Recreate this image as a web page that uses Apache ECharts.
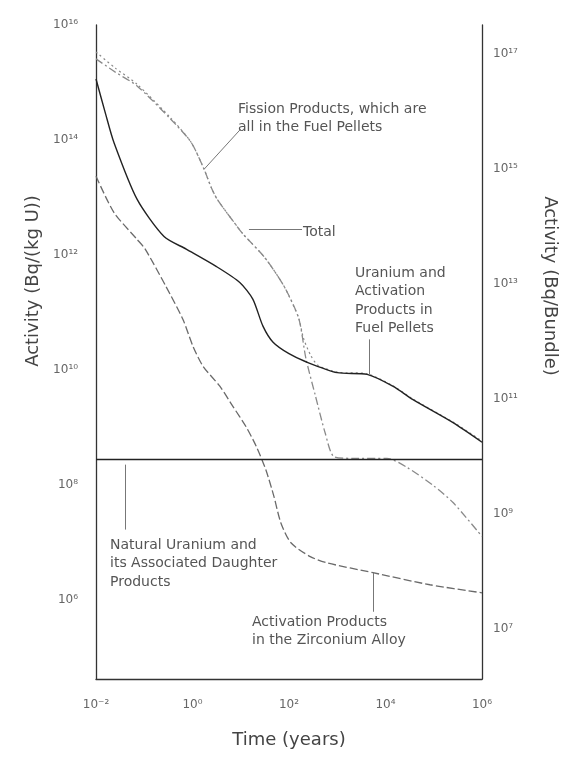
<!DOCTYPE html>
<html><head><meta charset="utf-8">
<script src="https://cdn.jsdelivr.net/npm/echarts@6/dist/echarts.min.js"></script>
<style>html,body{margin:0;padding:0;background:#fff}#c{width:564px;height:769px}</style>
</head><body><div id="c"></div>
<script>
// values are [log10(time in years), log10(activity in Bq/(kg U))]
const xTickExps = [-2, 0, 2, 4, 6];
const leftTickExps = [6, 8, 10, 12, 14, 16];
const rightTickExps = [7, 9, 11, 13, 15, 17];

const totalActivity = [[-2,15.53],[-1.6,15.25],[-1.15,14.97],[-0.45,14.38],[-0.03,13.96],[0.24,13.49],[0.38,13.19],[0.51,12.97],[0.92,12.50],[1.05,12.36],[1.5,11.95],[1.9,11.45],[2.2,10.9],[2.3,10.55],[2.45,10.25],[2.6,10.08],[3.0,9.96],[3.62,9.93],[4.16,9.72],[4.57,9.49],[5.4,9.09],[6,8.76]];
const fissionProducts = [[-2,15.41],[-1.6,15.18],[-1.15,14.94],[-0.45,14.36],[-0.03,13.96],[0.24,13.49],[0.38,13.19],[0.51,12.97],[0.92,12.50],[1.05,12.36],[1.5,11.95],[1.9,11.45],[2.2,10.9],[2.35,10.2],[2.55,9.54],[2.75,8.9],[2.93,8.49],[3.3,8.46],[4.03,8.46],[4.45,8.30],[5.0,7.98],[5.4,7.69],[6,7.10]];
const uraniumActivation = [[-2,15.06],[-1.8,14.45],[-1.63,13.96],[-1.15,12.97],[-0.59,12.32],[-0.13,12.10],[0.49,11.80],[0.98,11.52],[1.25,11.23],[1.46,10.76],[1.67,10.48],[2.0,10.28],[2.35,10.14],[3.0,9.95],[3.62,9.92],[4.16,9.71],[4.57,9.48],[5.4,9.08],[6,8.74]];
const zirconiumActivation = [[-2,13.37],[-1.63,12.74],[-1.15,12.27],[-0.98,12.10],[-0.55,11.45],[-0.2,10.88],[0.01,10.41],[0.22,10.06],[0.57,9.71],[0.84,9.36],[1.11,9.01],[1.32,8.67],[1.52,8.26],[1.69,7.79],[1.83,7.34],[2.04,6.99],[2.44,6.75],[2.79,6.64],[3.74,6.47],[4.92,6.26],[6,6.12]];
const naturalUranium = [[-2,8.44],[6,8.44]];

const supMap = {'-':'\u207B','0':'\u2070','1':'\u00B9','2':'\u00B2','3':'\u00B3','4':'\u2074','5':'\u2075','6':'\u2076','7':'\u2077','8':'\u2078','9':'\u2079'};
function pow10(v){ return '10' + String(v).split('').map(c => supMap[c] || c).join(''); }

const FONT = 'DejaVu Sans';
const tickLabel = {color:'#666', fontSize:12, fontFamily:FONT};
const annStyle = {fill:'#555', font:'14px "DejaVu Sans"', lineHeight:18.5};

function leader(a, b){ return [{coord:a},{coord:b}]; }
const leaderStyle = {color:'#777', width:1, type:'solid'};
const SM = 0.25;

const chart = echarts.init(document.getElementById('c'), null, {renderer:'canvas'});
chart.setOption({
  animation:false,
  backgroundColor:'#fff',
  grid:{left:96, right:82, top:25, bottom:90},
  xAxis:{type:'value', min:-2, max:6, interval:2,
    axisLine:{show:true, onZero:false, lineStyle:{color:'#333', width:1.3}},
    axisTick:{show:false}, splitLine:{show:false},
    axisLabel:{...tickLabel, margin:20, formatter:v => pow10(v), customValues:xTickExps},
    name:'Time (years)', nameLocation:'middle', nameGap:52,
    nameTextStyle:{color:'#444', fontSize:18, fontFamily:FONT}
  },
  yAxis:[
    {type:'value', min:4.62, max:16, position:'left',
      axisLine:{show:true, onZero:false, lineStyle:{color:'#333', width:1.3}},
      axisTick:{show:false}, splitLine:{show:false},
      axisLabel:{...tickLabel, margin:18, formatter:v => pow10(v), customValues:leftTickExps}
    },
    {type:'value', min:6.12, max:17.5, position:'right',
      axisLine:{show:true, onZero:false, lineStyle:{color:'#333', width:1.3}},
      axisTick:{show:false}, splitLine:{show:false},
      axisLabel:{...tickLabel, margin:11, formatter:v => pow10(v), customValues:rightTickExps}
    }
  ],
  series:[
    {name:'Total', type:'line', data:totalActivity, showSymbol:false, z:2, smooth:SM,
      lineStyle:{color:'#888', width:1.2, type:[2,3]},
      markLine:{silent:true, symbol:'none', label:{show:false}, lineStyle:leaderStyle,
        data:[leader([1.17,12.45],[2.27,12.45])]}
    },
    {name:'Fission Products', type:'line', data:fissionProducts, showSymbol:false, z:3, smooth:SM,
      lineStyle:{color:'#8a8a8a', width:1.3, type:[8,3,2,3]},
      markLine:{silent:true, symbol:'none', label:{show:false}, lineStyle:leaderStyle,
        data:[leader([0.24,13.49],[1.0,14.19])]}
    },
    {name:'Uranium and Activation Products in Fuel Pellets', type:'line', data:uraniumActivation, showSymbol:false, z:4, smooth:SM,
      lineStyle:{color:'#222', width:1.4},
      markLine:{silent:true, symbol:'none', label:{show:false}, lineStyle:leaderStyle,
        data:[leader([3.66,10.53],[3.66,9.92])]}
    },
    {name:'Activation Products in the Zirconium Alloy', type:'line', data:zirconiumActivation, showSymbol:false, z:3, smooth:SM,
      lineStyle:{color:'#6a6a6a', width:1.3, type:[8,3]},
      markLine:{silent:true, symbol:'none', label:{show:false}, lineStyle:leaderStyle,
        data:[leader([3.74,6.47],[3.74,5.79])]}
    },
    {name:'Natural Uranium', type:'line', data:naturalUranium, showSymbol:false, z:4,
      lineStyle:{color:'#222', width:1.6},
      markLine:{silent:true, symbol:'none', label:{show:false}, lineStyle:leaderStyle,
        data:[leader([-1.4,8.35],[-1.4,7.22])]}
    }
  ],
  graphic:[
    {type:'text', x:33, y:281, rotation:Math.PI/2,
      style:{text:'Activity (Bq/(kg U))', fill:'#444', font:'18px "DejaVu Sans"', textAlign:'center', textVerticalAlign:'middle'}},
    {type:'text', x:550, y:286, rotation:-Math.PI/2,
      style:{text:'Activity (Bq/Bundle)', fill:'#444', font:'18px "DejaVu Sans"', textAlign:'center', textVerticalAlign:'middle'}},
    {type:'text', x:238, y:100, style:{...annStyle, text:'Fission Products, which are\nall in the Fuel Pellets'}},
    {type:'text', x:303, y:223, style:{...annStyle, text:'Total'}},
    {type:'text', x:355, y:264, style:{...annStyle, text:'Uranium and\nActivation\nProducts in\nFuel Pellets'}},
    {type:'text', x:110, y:536, style:{...annStyle, text:'Natural Uranium and\nits Associated Daughter\nProducts'}},
    {type:'text', x:252, y:613, style:{...annStyle, text:'Activation Products\nin the Zirconium Alloy'}}
  ]
});
</script></body></html>
